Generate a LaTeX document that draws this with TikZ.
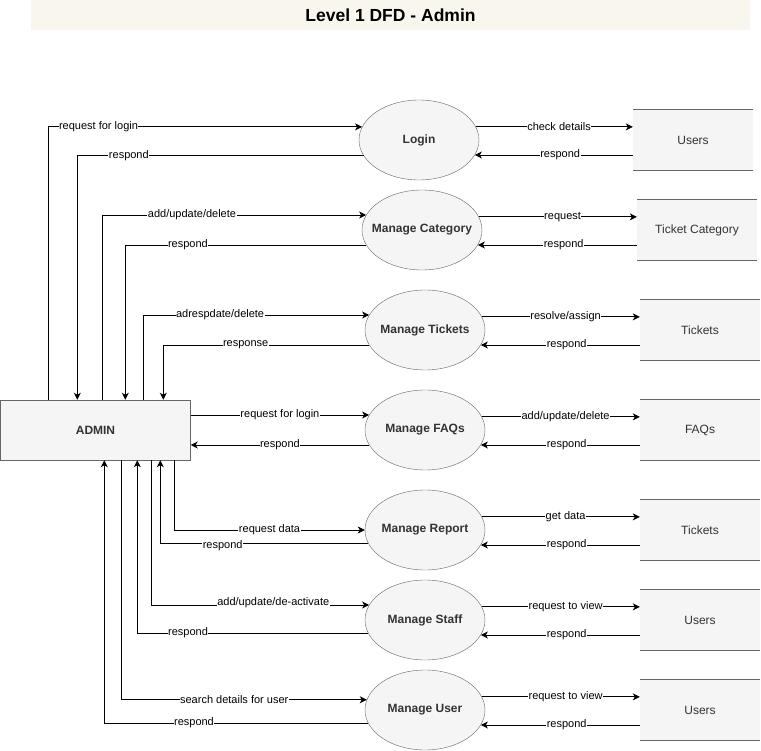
\documentclass[tikz,border=0pt]{standalone}
\usepackage{fontspec}
\setmainfont{Liberation Sans}
\usepackage{tikz}
\usetikzlibrary{arrows.meta,shapes.geometric,calc}
\definecolor{boxfill}{HTML}{F5F5F5}
\definecolor{boxline}{HTML}{666666}
\definecolor{boxtext}{HTML}{333333}
\definecolor{titlefill}{HTML}{F9F7ED}

\begin{document}
\begin{tikzpicture}[x=1pt,y=-1pt,
  proc/.style={ellipse,draw=boxline,fill=boxfill,text=boxtext,minimum width=120pt,minimum height=80pt,inner sep=0pt,font=\fontsize{12}{14}\selectfont\bfseries},
  ds/.style={fill=boxfill,text=boxtext,minimum width=120pt,minimum height=60pt,font=\fontsize{12}{14}\selectfont},
  dsline/.style={draw=boxline,line width=0.8pt},
  flow/.style={-{Stealth[length=7pt,width=7pt,inset=2pt]},line width=0.8pt},
  lbl/.style={fill=white,inner sep=0.5pt,font=\fontsize{11}{13}\selectfont}]
\useasboundingbox (0,0) rectangle (761,751);
% titolo
\node[fill=titlefill,minimum width=719pt,minimum height=30pt,font=\fontsize{17.5}{20}\selectfont\bfseries] (title) at (390.5,15) {Level 1 DFD - Admin};
% entita esterna
\node[draw=boxline,fill=boxfill,text=boxtext,minimum width=190pt,minimum height=60pt,font=\fontsize{12}{14}\selectfont\bfseries] (admin) at (95.5,430) {ADMIN};
% processi, archivi e flussi verso gli archivi
\foreach \n/\y/\px/\ptxt/\sx/\stxt/\fwd in {
  login/140/419/Login/693/Users/check details,
  cat/230/422/Manage Category/697/Ticket Category/request,
  tick/330/425/Manage Tickets/700/Tickets/{resolve/assign},
  faq/430/425/Manage FAQs/700/FAQs/{add/update/delete},
  rep/530/425/Manage Report/700/Tickets/get data,
  staff/620/425/Manage Staff/700/Users/request to view,
  user/710/425/Manage User/700/Users/request to view
}{
  \node[proc] (\n) at (\px,\y) {\makebox[60pt][c]{\ptxt}};
  \node[ds] (\n-ds) at (\sx,\y) {\stxt};
  \draw[dsline] (\n-ds.north west) -- (\n-ds.north east) (\n-ds.south west) -- (\n-ds.south east);
  \draw[flow] (\n.13) -- node[lbl,pos=.53]{\fwd} (\n.13 -| \n-ds.west);
  \draw[flow] (\n-ds.west |- \n.-15) -- node[lbl,pos=.46]{respond} (\n.-15);
}
% flussi tra ADMIN e processi
\draw[flow] ([xshift=48pt]admin.north west) |- node[lbl,pos=.58]{request for login} (login.167);
\draw[flow] (login.196) -| node[lbl,pos=.41]{respond} ([xshift=77pt]admin.north west);
\draw[flow] ([xshift=102pt]admin.north west) |- node[lbl,pos=.67]{add/update/delete} (cat.165);
\draw[flow] (cat.195) -| node[lbl,pos=.37]{respond} ([xshift=125pt]admin.north west);
\draw[flow] ([xshift=143pt]admin.north west) |- node[lbl,pos=.67]{adrespdate/delete} (tick.165);
\draw[flow] (tick.195) -| node[lbl,pos=.30]{response} ([xshift=163pt]admin.north west);
\draw[flow] (faq.165 -| admin.east) -- node[lbl]{request for login} (faq.165);
\draw[flow] (faq.195) -- node[lbl]{respond} (faq.195 -| admin.east);
\draw[flow] ([xshift=174pt]admin.south west) |- node[lbl,pos=.75]{request data} (rep.west);
\draw[flow] (rep.193) -| node[lbl,pos=.35,yshift=-2.5pt]{respond} ([xshift=160pt]admin.south west);
\draw[flow] ([xshift=151pt]admin.south west) |- node[lbl,pos=.78,yshift=2pt]{add/update/de-activate} (staff.165);
\draw[flow] (staff.193) -| node[lbl,pos=.39]{respond} ([xshift=137pt]admin.south west);
\draw[flow] ([xshift=121pt]admin.south west) |- node[lbl,pos=.73]{search details for user} (user.170);
\draw[flow] (user.193) -| node[lbl,pos=.33]{respond} ([xshift=104pt]admin.south west);
\end{tikzpicture}
\end{document}
